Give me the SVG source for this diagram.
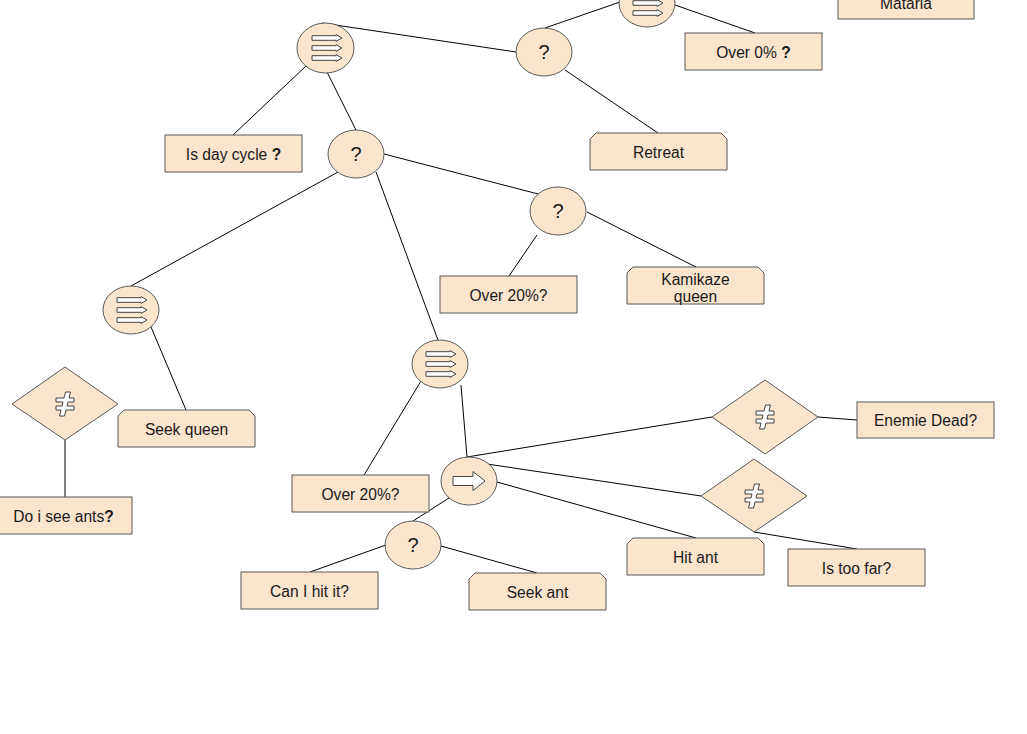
<svg xmlns="http://www.w3.org/2000/svg" width="1027" height="734" viewBox="0 0 1027 734">
  <style>
    .shape { fill: #fce5cd; stroke: #595959; stroke-width: 1; }
    .icon { fill: #ffffff; stroke: #434343; stroke-width: 1; stroke-linejoin: miter; }
    .edge { stroke: #000000; stroke-width: 1; fill: none; }
    .lbl { font-family: "Liberation Sans", Arial, sans-serif; font-size: 15.6px; fill: #1a1a1a; text-anchor: middle; }
    .sym { font-family: "Liberation Sans", Arial, sans-serif; font-size: 20px; fill: #1a1a1a; text-anchor: middle; }
    .b { font-weight: bold; }
  </style>
  <defs>
    <!-- single striped arrow used in the sequence glyph -->
    <path id="stripe" class="icon" d="M-15,-2.3 H9 V-3.4 L15,0 L9,3.4 V2.3 H-15 Z"/>
    <g id="seqIcon">
      <use href="#stripe" y="-10"/>
      <use href="#stripe" y="0"/>
      <use href="#stripe" y="10"/>
    </g>
    <!-- block arrow glyph -->
    <path id="arrowIcon" class="icon" d="M-16,-4.5 H4 V-9.5 L16,0 L4,9.5 V4.5 H-16 Z"/>
    <!-- not-equal glyph -->
    <polygon id="neqIcon" class="icon" points="0.5,-12 5.5,-12 4,-6 9,-6 9,-2 3,-2 2,2 9,2 9,6 1,6 -0.5,12 -5.5,12 -4,6 -9,6 -9,2 -3,2 -2,-2 -9,-2 -9,-6 -1,-6"/>
  </defs>

  <!-- connectors -->
  <g id="connectors">
    <line class="edge" x1="322" y1="23" x2="516" y2="52"/>
    <line class="edge" x1="306" y1="66" x2="233" y2="135"/>
    <line class="edge" x1="327" y1="72" x2="356" y2="130"/>
    <line class="edge" x1="545" y1="28" x2="620" y2="2"/>
    <line class="edge" x1="675" y1="5" x2="755" y2="33"/>
    <line class="edge" x1="565" y1="70" x2="658" y2="133"/>
    <line class="edge" x1="384" y1="154" x2="542" y2="195"/>
    <line class="edge" x1="338" y1="172" x2="131" y2="286"/>
    <line class="edge" x1="376" y1="172" x2="438" y2="340"/>
    <line class="edge" x1="537" y1="235" x2="509" y2="276"/>
    <line class="edge" x1="587" y1="212" x2="696" y2="267"/>
    <line class="edge" x1="151" y1="327" x2="186" y2="410"/>
    <line class="edge" x1="65" y1="440" x2="65" y2="497"/>
    <line class="edge" x1="421" y1="381" x2="364" y2="475"/>
    <line class="edge" x1="461" y1="385" x2="467" y2="457"/>
    <line class="edge" x1="467" y1="457" x2="712" y2="417"/>
    <line class="edge" x1="487" y1="464" x2="701" y2="496"/>
    <line class="edge" x1="497" y1="482" x2="696" y2="538"/>
    <line class="edge" x1="449" y1="498" x2="413" y2="521"/>
    <line class="edge" x1="818" y1="417" x2="857" y2="420"/>
    <line class="edge" x1="754" y1="532" x2="857" y2="549"/>
    <line class="edge" x1="386" y1="545" x2="310" y2="572"/>
    <line class="edge" x1="441" y1="546" x2="537" y2="573"/>
  </g>

  <!-- composite nodes -->
  <g id="seq-root">
    <ellipse class="shape" cx="325.5" cy="48" rx="28.5" ry="25"/>
    <use href="#seqIcon" x="327" y="48"/>
  </g>
  <g id="sel-top">
    <ellipse class="shape" cx="544" cy="52" rx="28" ry="24"/>
    <text class="sym" x="544" y="59">?</text>
  </g>
  <g id="seq-top">
    <ellipse class="shape" cx="647" cy="3" rx="28" ry="24"/>
    <use href="#seqIcon" x="648" y="3"/>
  </g>
  <g id="sel-day">
    <ellipse class="shape" cx="356" cy="154" rx="28" ry="24"/>
    <text class="sym" x="356" y="161">?</text>
  </g>
  <g id="sel-queen">
    <ellipse class="shape" cx="558" cy="211" rx="28" ry="24"/>
    <text class="sym" x="558" y="218">?</text>
  </g>
  <g id="seq-left">
    <ellipse class="shape" cx="131" cy="310" rx="28" ry="24"/>
    <use href="#seqIcon" x="132" y="310"/>
  </g>
  <g id="seq-mid">
    <ellipse class="shape" cx="440" cy="364" rx="28" ry="24"/>
    <use href="#seqIcon" x="441" y="364"/>
  </g>
  <g id="seq-attack">
    <ellipse class="shape" cx="469" cy="481" rx="28" ry="24"/>
    <use href="#arrowIcon" x="469" y="481"/>
  </g>
  <g id="sel-hit">
    <ellipse class="shape" cx="413" cy="545" rx="28" ry="24"/>
    <text class="sym" x="413" y="552">?</text>
  </g>

  <!-- inverter nodes -->
  <g id="not-ants">
    <polygon class="shape" points="65,367 118,404 65,440 12,404"/>
    <use href="#neqIcon" x="65" y="404"/>
  </g>
  <g id="not-dead">
    <polygon class="shape" points="765,380 818,417 765,454 712,417"/>
    <use href="#neqIcon" x="765" y="417"/>
  </g>
  <g id="not-far">
    <polygon class="shape" points="754,459 807,496 754,532 701,496"/>
    <use href="#neqIcon" x="754" y="496"/>
  </g>

  <!-- conditions -->
  <g id="cond-mataria">
    <rect class="shape" x="838" y="-18" width="136" height="37"/>
    <text class="lbl" x="906" y="9">Mataria</text>
  </g>
  <g id="cond-over0">
    <rect class="shape" x="685" y="33" width="137" height="37"/>
    <text class="lbl" x="753.5" y="57.5">Over 0% <tspan class="b">?</tspan></text>
  </g>
  <g id="cond-day">
    <rect class="shape" x="165" y="135" width="137" height="37"/>
    <text class="lbl" x="233.5" y="160">Is day cycle <tspan class="b">?</tspan></text>
  </g>
  <g id="cond-over20-a">
    <rect class="shape" x="440" y="276" width="137" height="37"/>
    <text class="lbl" x="508.5" y="301">Over 20%?</text>
  </g>
  <g id="cond-ants">
    <rect class="shape" x="-5" y="497" width="137" height="37"/>
    <text class="lbl" x="63.5" y="522">Do i see ants<tspan class="b">?</tspan></text>
  </g>
  <g id="cond-dead">
    <rect class="shape" x="857" y="402" width="137" height="36"/>
    <text class="lbl" x="925.5" y="426">Enemie Dead?</text>
  </g>
  <g id="cond-over20-b">
    <rect class="shape" x="292" y="475" width="137" height="37"/>
    <text class="lbl" x="360.5" y="500">Over 20%?</text>
  </g>
  <g id="cond-far">
    <rect class="shape" x="788" y="549" width="137" height="37"/>
    <text class="lbl" x="856.5" y="574">Is too far?</text>
  </g>
  <g id="cond-hit">
    <rect class="shape" x="241" y="572" width="137" height="37"/>
    <text class="lbl" x="309.5" y="597">Can I hit it?</text>
  </g>

  <!-- actions -->
  <g id="act-retreat">
    <path class="shape" d="M596,133 H721 L727,139 V170 H590 V139 Z"/>
    <text class="lbl" x="658.5" y="158">Retreat</text>
  </g>
  <g id="act-kamikaze">
    <path class="shape" d="M633,267 H758 L764,273 V304 H627 V273 Z"/>
    <text class="lbl" x="695.5" y="284.5">Kamikaze</text>
    <text class="lbl" x="695.5" y="302">queen</text>
  </g>
  <g id="act-seek-queen">
    <path class="shape" d="M124,410 H249 L255,416 V447 H118 V416 Z"/>
    <text class="lbl" x="186.5" y="435">Seek queen</text>
  </g>
  <g id="act-hit-ant">
    <path class="shape" d="M633,538 H758 L764,544 V575 H627 V544 Z"/>
    <text class="lbl" x="695.5" y="563">Hit ant</text>
  </g>
  <g id="act-seek-ant">
    <path class="shape" d="M475,573 H600 L606,579 V610 H469 V579 Z"/>
    <text class="lbl" x="537.5" y="598">Seek ant</text>
  </g>
</svg>
